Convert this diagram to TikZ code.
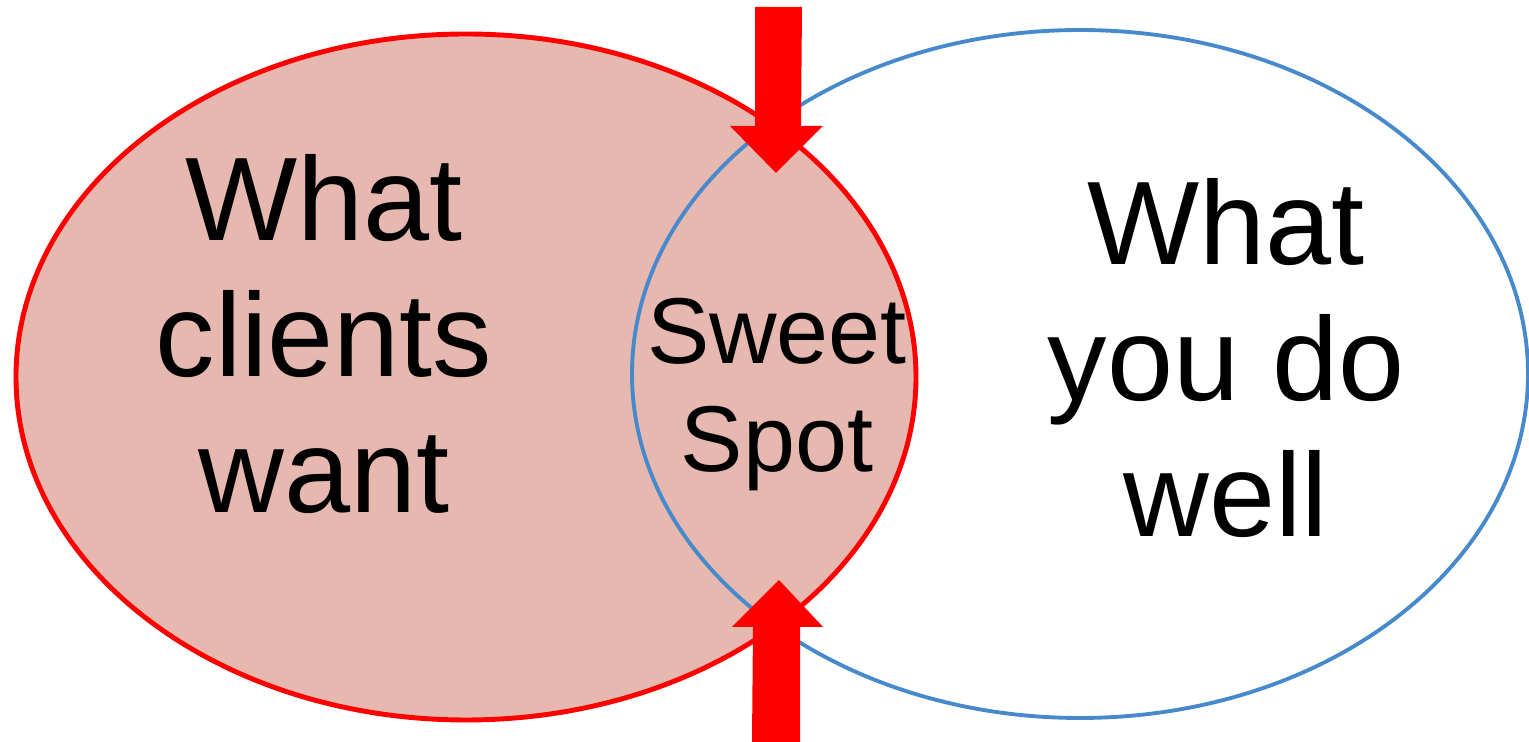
\documentclass[tikz,border=0pt]{standalone}
\usepackage{fontspec}
\setmainfont{Liberation Sans}
\definecolor{wantfill}{RGB}{230,184,176}
\definecolor{wantline}{RGB}{255,0,0}
\definecolor{doline}{RGB}{70,138,204}
\definecolor{pointer}{RGB}{255,0,0}
\tikzset{
  wantset/.style={fill=wantfill, draw=wantline, line width=1.4pt},
  doset/.style={draw=doline, line width=1.1pt},
  bigtext/.style={align=center, font=\fontsize{33.8}{38.7}\selectfont, inner sep=0pt},
  smalltext/.style={align=center, font=\fontsize{26.6}{30.7}\selectfont, inner sep=0pt},
  blockarrow/.style={fill=pointer, draw=none}
}
\begin{document}
\begin{tikzpicture}
\useasboundingbox (0,0) rectangle (15.29,7.42);

% the two overlapping sets
\path[wantset] (4.66,3.65) ellipse [x radius=4.50, y radius=3.43];
\path[doset] (10.80,3.68) ellipse [x radius=4.48, y radius=3.44];

% labels
\node[bigtext] (want) at (3.24,4.075) {What\\clients\\want};
\node[bigtext] (well) at (12.26,3.84) {What\\you do\\well};
\node[smalltext] (sweet) at (7.77,3.475) {Sweet\\Spot};

% block arrows pointing at the overlap
\coordinate (toptip) at (7.76,5.69);
\coordinate (bottip) at (7.79,1.62);
\fill[blockarrow] (7.55,7.35) -- (8.02,7.35) -- (8.01,6.16) -- (8.23,6.16)
  -- (toptip) -- (7.30,6.16) -- (7.55,6.16) -- cycle;
\fill[blockarrow] (7.52,0) -- (8.00,0) -- (8.00,1.15) -- (8.23,1.15)
  -- (bottip) -- (7.32,1.15) -- (7.53,1.15) -- cycle;
\end{tikzpicture}
\end{document}
